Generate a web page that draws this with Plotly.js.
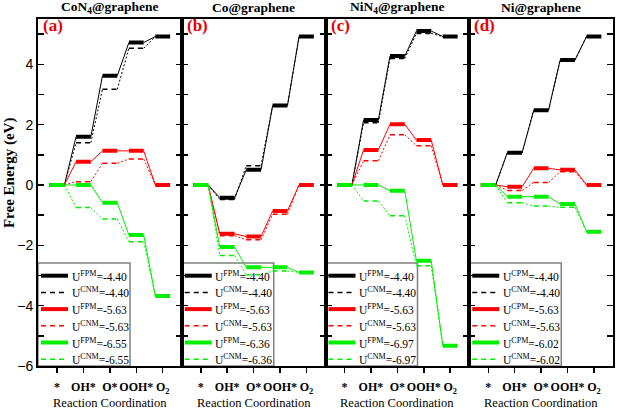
<!DOCTYPE html>
<html>
<head>
<meta charset="utf-8">
<script src="https://cdn.plot.ly/plotly-3.0.1.min.js"></script>
<style>html,body{margin:0;padding:0;background:#fff}#chart{width:617px;height:410px}</style>
</head>
<body>
<div id="chart"></div>
<script>
// Reaction steps (x categories)
const steps = ['*', 'OH*', 'O*', 'OOH*', 'O<sub>2</sub>'];

// Panel titles
const panelTitles = ['CoN<sub>4</sub>@graphene', 'Co@graphene', 'NiN<sub>4</sub>@graphene', 'Ni@graphene'];
const panelTags = ['(a)', '(b)', '(c)', '(d)'];

// (a) CoN4@graphene
const aBlackFPM = [0, 1.60, 3.62, 4.72, 4.92];
const aBlackCNM = [0, 1.40, 3.17, 4.53, 4.92];
const aRedFPM   = [0, 0.77, 1.13, 1.13, 0];
const aRedCNM   = [0, 0.11, 0.72, 0.86, 0];
const aGreenFPM = [0, 0.00, -0.59, -1.66, -3.68];
const aGreenCNM = [0, -0.75, -1.13, -1.88, -3.68];
const aNames = ['U<sup>FPM</sup>=-4.40', 'U<sup>CNM</sup>=-4.40', 'U<sup>FPM</sup>=-5.63', 'U<sup>CNM</sup>=-5.63', 'U<sup>FPM</sup>=-6.55', 'U<sup>CNM</sup>=-6.55'];

// (b) Co@graphene
const bBlackFPM = [0, -0.42, 0.50, 2.63, 4.92];
const bBlackCNM = [0, -0.48, 0.64, 2.63, 4.92];
const bRedFPM   = [0, -1.62, -1.71, -0.86, 0];
const bRedCNM   = [0, -1.68, -1.82, -0.97, 0];
const bGreenFPM = [0, -2.06, -2.73, -2.73, -2.90];
const bGreenCNM = [0, -2.34, -2.98, -2.85, -2.90];
const bNames = ['U<sup>FPM</sup>=-4.40', 'U<sup>CNM</sup>=-4.40', 'U<sup>FPM</sup>=-5.63', 'U<sup>CNM</sup>=-5.63', 'U<sup>FPM</sup>=-6.36', 'U<sup>CNM</sup>=-6.36'];

// (c) NiN4@graphene
const cBlackFPM = [0, 2.15, 4.27, 5.10, 4.92];
const cBlackCNM = [0, 2.06, 4.19, 5.02, 4.92];
const cRedFPM   = [0, 1.16, 2.01, 1.49, 0];
const cRedCNM   = [0, 0.80, 1.66, 1.30, 0];
const cGreenFPM = [0, 0.00, -0.19, -2.51, -5.33];
const cGreenCNM = [0, -0.53, -1.02, -2.68, -5.33];
const cNames = ['U<sup>FPM</sup>=-4.40', 'U<sup>CNM</sup>=-4.40', 'U<sup>FPM</sup>=-5.63', 'U<sup>CNM</sup>=-5.63', 'U<sup>FPM</sup>=-6.97', 'U<sup>CNM</sup>=-6.97'];

// (d) Ni@graphene
const dBlackFPM = [0, 1.07, 2.48, 4.14, 4.92];
const dBlackCNM = [0, 1.06, 2.47, 4.13, 4.92];
const dRedFPM   = [0, -0.06, 0.55, 0.50, 0];
const dRedCNM   = [0, -0.18, 0.08, 0.44, 0];
const dGreenFPM = [0, -0.39, -0.39, -0.63, -1.55];
const dGreenCNM = [0, -0.59, -0.70, -0.74, -1.55];
const dNames = ['U<sup>CPM</sup>=-4.40', 'U<sup>CNM</sup>=-4.40', 'U<sup>CPM</sup>=-5.63', 'U<sup>CNM</sup>=-5.63', 'U<sup>CPM</sup>=-6.02', 'U<sup>CNM</sup>=-6.02'];

const panels = [
  {series: [aBlackFPM, aBlackCNM, aRedFPM, aRedCNM, aGreenFPM, aGreenCNM], names: aNames},
  {series: [bBlackFPM, bBlackCNM, bRedFPM, bRedCNM, bGreenFPM, bGreenCNM], names: bNames},
  {series: [cBlackFPM, cBlackCNM, cRedFPM, cRedCNM, cGreenFPM, cGreenCNM], names: cNames},
  {series: [dBlackFPM, dBlackCNM, dRedFPM, dRedCNM, dGreenFPM, dGreenCNM], names: dNames}
];

const colors = ['#000000', '#000000', '#ff0000', '#ff0000', '#00ee00', '#00ee00'];
const isCNM = [false, true, false, true, false, true];

const HALF = 0.28;          // half width of each energy level bar (x units)
const SERIF = 'Liberation Serif';
const SANS = 'Liberation Sans';

// plot-area geometry used for the hand-built legend boxes (pixels)
const PANEL_W = 143.75, PLOT_H = 347;
const LEG_W = 92, LEG_H = 103;
const LEG_ROWS = [90.3, 73.6, 56.9, 40.2, 23.5, 6.8]; // row centres, px above x axis

function barXY(vals) {
  const x = [], y = [];
  vals.forEach((v, i) => { x.push(i - HALF, i + HALF, null); y.push(v, v, null); });
  return {x, y};
}
function connXY(vals) {
  const x = [], y = [];
  for (let i = 0; i < vals.length - 1; i++) {
    x.push(i + HALF, i + 1 - HALF, null);
    y.push(vals[i], vals[i + 1], null);
  }
  return {x, y};
}
function barLine(si) {
  return {color: colors[si], width: isCNM[si] ? 1.5 : 4, dash: isCNM[si] ? '5px,4px' : 'solid'};
}

const traces = [];
const shapes = [];
const annotations = [];

panels.forEach((p, pi) => {
  const sfx = pi === 0 ? '' : String(pi + 1);
  p.series.forEach((vals, si) => {
    const c = connXY(vals);
    traces.push({
      type: 'scatter', mode: 'lines', x: c.x, y: c.y,
      xaxis: 'x' + sfx, yaxis: 'y' + sfx, showlegend: false, hoverinfo: 'skip',
      line: {color: colors[si], width: 1, dash: isCNM[si] ? '2px,2px' : 'solid'}
    });
    const b = barXY(vals);
    traces.push({
      type: 'scatter', mode: 'lines', x: b.x, y: b.y, name: p.names[si],
      xaxis: 'x' + sfx, yaxis: 'y' + sfx, showlegend: false, hoverinfo: 'skip',
      line: barLine(si)
    });
  });

  // legend box (drawn beneath the data, as in the original)
  const xr = 'x' + sfx + ' domain', yr = 'y' + sfx + ' domain';
  shapes.push({
    type: 'rect', xref: xr, yref: yr, layer: 'below',
    x0: 0, x1: LEG_W / PANEL_W, y0: 0, y1: LEG_H / PLOT_H,
    fillcolor: '#ffffff', line: {color: '#808080', width: 1.5}
  });
  p.names.forEach((nm, si) => {
    const yy = LEG_ROWS[si] / PLOT_H;
    shapes.push({
      type: 'line', xref: xr, yref: yr, layer: 'above',
      x0: 3 / PANEL_W, x1: 30 / PANEL_W, y0: yy, y1: yy,
      line: barLine(si)
    });
    annotations.push({
      text: nm, xref: xr, yref: yr, x: 31.5 / PANEL_W, y: yy,
      xanchor: 'left', yanchor: 'middle', showarrow: false,
      font: {family: SERIF, size: 11.5, color: '#000'}
    });
  });
});

const layout = {
  width: 617, height: 410,
  margin: {l: 38, r: 4, t: 19, b: 44},
  paper_bgcolor: '#ffffff', plot_bgcolor: '#ffffff',
  showlegend: false,
  shapes: shapes,
  annotations: annotations,
  font: {family: SERIF, color: '#000'}
};

for (let pi = 0; pi < 4; pi++) {
  const sfx = pi === 0 ? '' : String(pi + 1);
  const d0 = pi * 0.25, d1 = (pi + 1) * 0.25;
  layout['xaxis' + sfx] = {
    domain: [d0, d1], anchor: 'y' + sfx, range: [-0.72, 4.72],
    tickmode: 'array', tickvals: [0, 1, 2, 3, 4], ticktext: steps, tickangle: 0,
    ticks: 'outside', ticklen: 5, tickwidth: 1.5, tickcolor: '#000',
    showline: true, linewidth: 2, linecolor: '#000', mirror: true,
    showgrid: false, zeroline: false, fixedrange: true,
    tickfont: {family: SERIF, size: 12, color: '#000', weight: 'bold'},
    ticklabelstandoff: 4
  };
  layout['yaxis' + sfx] = {
    domain: [0, 1], anchor: 'x' + sfx, range: [-6, 5.5],
    tickmode: 'linear', tick0: 0, dtick: 2,
    ticks: 'inside', ticklen: 6, tickwidth: 1.5, tickcolor: '#000',
    minor: {dtick: 1, tick0: 0, ticks: 'inside', ticklen: 6, tickwidth: 1.5, tickcolor: '#000', showgrid: false},
    showticklabels: pi === 0,
    tickfont: {family: SANS, size: 14, color: '#000'},
    showline: true, linewidth: 2, linecolor: '#000', mirror: 'ticks',
    showgrid: false, zeroline: false, fixedrange: true
  };
  annotations.push({
    text: '<b>' + panelTitles[pi] + '</b>', xref: 'paper', yref: 'paper',
    x: (d0 + d1) / 2, y: 1.032, xanchor: 'center', yanchor: 'middle', showarrow: false,
    font: {family: SERIF, size: 13.5, color: '#000'}
  });
  annotations.push({
    text: '<b>' + panelTags[pi] + '</b>', xref: 'paper', yref: 'paper',
    x: d0, xshift: 3, y: 0.982, xanchor: 'left', yanchor: 'middle', showarrow: false,
    font: {family: SERIF, size: 17, color: '#ee0000'}
  });
  annotations.push({
    text: 'Reaction Coordination', xref: 'paper', yref: 'paper',
    x: (d0 + d1) / 2, y: -0.107, xanchor: 'center', yanchor: 'middle', showarrow: false,
    font: {family: SERIF, size: 12.5, color: '#000'}
  });
}
annotations.push({
  text: '<b>Free Energy (eV)</b>', xref: 'paper', yref: 'paper',
  x: 0, xshift: -29, y: 0.556, xanchor: 'center', yanchor: 'middle', textangle: -90, showarrow: false,
  font: {family: SERIF, size: 15, color: '#000'}
});

Plotly.newPlot('chart', traces, layout, {displayModeBar: false, staticPlot: true});
</script>
</body>
</html>
